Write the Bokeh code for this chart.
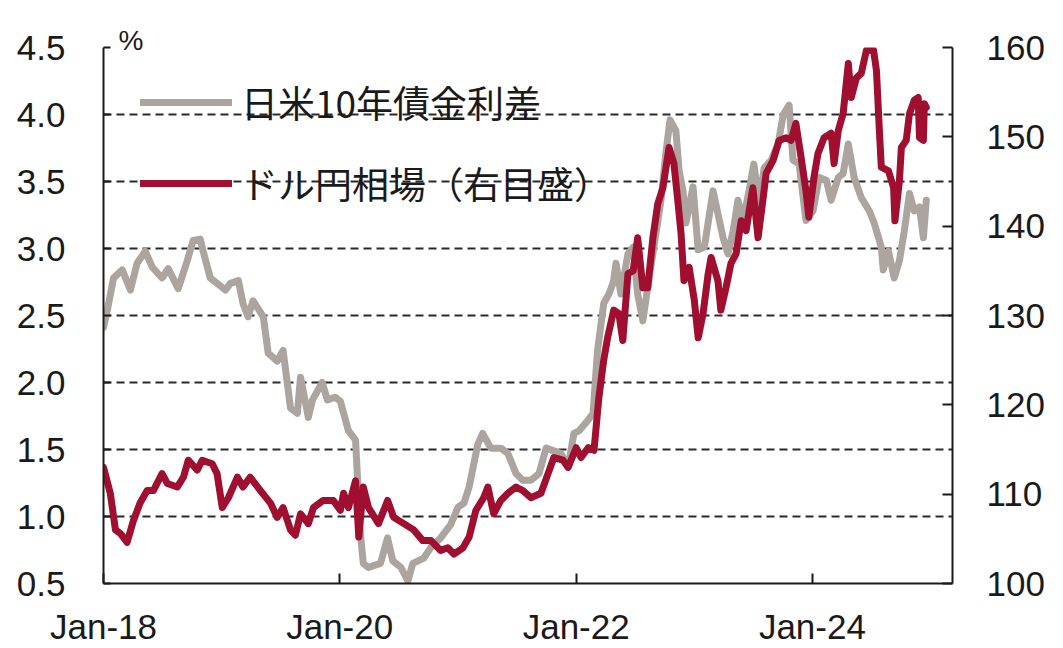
import pandas as pd
from bokeh.plotting import figure
from bokeh.models import (Range1d, LinearAxis, FixedTicker, NumeralTickFormatter,
                          Legend, LegendItem, Title, ColumnDataSource)
from bokeh.core.properties import value
from bokeh.embed import file_html
from bokeh.resources import INLINE

# ---------------- data ----------------
spread_dates = [
    "2018-01-01", "2018-01-13", "2018-02-01", "2018-02-28", "2018-03-25", "2018-04-15", "2018-05-10",
    "2018-06-01", "2018-07-01", "2018-07-20", "2018-08-20", "2018-09-17", "2018-10-05", "2018-10-27",
    "2018-11-05", "2018-11-27", "2018-12-18",
    "2019-01-13", "2019-01-28", "2019-02-22", "2019-03-08", "2019-03-24", "2019-04-08", "2019-05-10",
    "2019-05-25", "2019-06-22", "2019-07-10", "2019-08-02", "2019-08-23", "2019-09-02", "2019-09-26",
    "2019-10-09", "2019-11-08", "2019-11-24", "2019-12-18",
    "2020-01-03", "2020-01-28", "2020-02-19", "2020-03-05", "2020-03-14", "2020-03-30", "2020-05-06",
    "2020-05-28", "2020-06-13", "2020-07-08", "2020-07-30", "2020-08-14", "2020-09-17", "2020-10-09",
    "2020-11-08", "2020-12-09",
    "2021-01-01", "2021-01-19", "2021-02-04", "2021-03-03", "2021-03-18", "2021-04-12", "2021-05-13",
    "2021-06-04", "2021-06-29", "2021-07-20", "2021-08-14", "2021-09-08", "2021-09-30", "2021-10-24",
    "2021-11-15", "2021-12-07", "2021-12-25",
    "2022-01-10", "2022-02-07", "2022-02-22", "2022-03-08", "2022-03-27", "2022-04-12", "2022-04-26",
    "2022-05-04", "2022-05-19", "2022-06-10", "2022-06-26", "2022-07-10", "2022-07-26", "2022-08-10",
    "2022-08-29", "2022-09-20", "2022-10-05", "2022-10-18", "2022-11-05", "2022-11-15", "2022-11-27",
    "2022-12-06", "2022-12-28",
    "2023-01-13", "2023-02-01", "2023-02-28", "2023-03-15", "2023-03-31", "2023-04-15", "2023-05-01",
    "2023-05-16", "2023-06-01", "2023-06-19", "2023-07-04", "2023-07-20", "2023-08-05", "2023-08-27",
    "2023-09-17", "2023-10-03", "2023-10-21", "2023-11-02", "2023-11-21", "2023-12-12",
    "2024-01-03", "2024-01-22", "2024-02-13", "2024-02-28", "2024-03-21", "2024-04-05", "2024-04-21",
    "2024-05-09", "2024-05-31", "2024-06-25", "2024-07-10", "2024-08-01", "2024-08-07", "2024-08-23",
    "2024-09-10", "2024-09-26", "2024-10-11", "2024-10-27", "2024-11-11", "2024-11-27", "2024-12-09",
    "2024-12-18",
]
spread_values = [
    2.41, 2.54, 2.78, 2.84, 2.69, 2.89, 2.98, 2.86, 2.78, 2.85, 2.70, 2.91, 3.06, 3.07, 2.98, 2.78, 2.74,
    2.69, 2.74, 2.76, 2.59, 2.49, 2.61, 2.49, 2.22, 2.16, 2.24, 1.81, 1.77, 2.04, 1.74, 1.87, 2.00, 1.87, 1.89,
    1.86, 1.64, 1.57, 0.87, 0.65, 0.62, 0.65, 0.84, 0.67, 0.62, 0.52, 0.65, 0.69, 0.77, 0.84, 0.94,
    1.07, 1.10, 1.22, 1.54, 1.62, 1.51, 1.51, 1.47, 1.32, 1.27, 1.27, 1.32, 1.51, 1.49, 1.47, 1.37, 1.62,
    1.64, 1.72, 1.77, 2.24, 2.59, 2.66, 2.75, 2.89, 2.66, 2.96, 3.01, 2.66, 2.46, 2.71, 3.01, 3.36, 3.71,
    3.96, 3.88, 3.58, 3.43, 3.19, 3.46,
    2.99, 3.01, 3.43, 3.26, 3.08, 2.96, 3.13, 3.36, 3.21, 3.43, 3.63, 3.34, 3.60, 3.66, 3.78, 4.00, 4.07,
    3.66, 3.63, 3.21,
    3.28, 3.53, 3.51, 3.36, 3.53, 3.56, 3.78, 3.53, 3.38, 3.28, 3.19, 3.01, 2.84, 2.98, 2.78, 2.91, 3.13,
    3.41, 3.28, 3.31, 3.08, 3.36,
]

usdjpy_dates = [
    "2018-01-01", "2018-01-22", "2018-02-07", "2018-02-22", "2018-03-15", "2018-04-03", "2018-04-24",
    "2018-05-16", "2018-06-04", "2018-07-01", "2018-07-17", "2018-08-17", "2018-09-05", "2018-09-20",
    "2018-10-18", "2018-11-02", "2018-12-03", "2018-12-18",
    "2019-01-03", "2019-01-22", "2019-02-19", "2019-03-08", "2019-03-30", "2019-05-01", "2019-06-01",
    "2019-06-22", "2019-07-10", "2019-08-02", "2019-08-17", "2019-09-02", "2019-09-26", "2019-10-12",
    "2019-11-11", "2019-12-12",
    "2020-01-03", "2020-01-13", "2020-01-28", "2020-02-19", "2020-02-29", "2020-03-14", "2020-03-30",
    "2020-04-30", "2020-05-28", "2020-06-16", "2020-07-17", "2020-08-17", "2020-09-14", "2020-10-09",
    "2020-11-08", "2020-11-30", "2020-12-19",
    "2021-01-16", "2021-02-04", "2021-02-25", "2021-03-21", "2021-04-03", "2021-04-21", "2021-05-13",
    "2021-06-04", "2021-06-29", "2021-07-20", "2021-08-14", "2021-09-14", "2021-10-06", "2021-10-24",
    "2021-11-21", "2021-12-07",
    "2022-01-01", "2022-01-16", "2022-02-07", "2022-02-25", "2022-03-12", "2022-03-27", "2022-04-08",
    "2022-04-27", "2022-05-13", "2022-05-25", "2022-06-10", "2022-06-26", "2022-07-10", "2022-07-26",
    "2022-08-10", "2022-08-26", "2022-09-10", "2022-09-26", "2022-10-15", "2022-10-30", "2022-11-12",
    "2022-11-21", "2022-11-30", "2022-12-16",
    "2023-01-01", "2023-01-13", "2023-01-28", "2023-02-13", "2023-02-22", "2023-03-15", "2023-03-24",
    "2023-04-09", "2023-04-24", "2023-05-10", "2023-05-26", "2023-06-10", "2023-07-01", "2023-07-17",
    "2023-08-02", "2023-08-11", "2023-09-02", "2023-09-20", "2023-10-12", "2023-10-27", "2023-11-11",
    "2023-11-27", "2023-12-12", "2023-12-21",
    "2024-01-06", "2024-01-18", "2024-02-06", "2024-02-28", "2024-03-08", "2024-03-21", "2024-04-05",
    "2024-04-21", "2024-04-30", "2024-05-16", "2024-05-31", "2024-06-16", "2024-07-08", "2024-07-17",
    "2024-07-26", "2024-08-01", "2024-08-23", "2024-09-08", "2024-09-12", "2024-09-26", "2024-10-02",
    "2024-10-17", "2024-10-27", "2024-11-11", "2024-11-23", "2024-11-27", "2024-12-09", "2024-12-12",
    "2024-12-18",
]
usdjpy_values = [
    113.0, 110.1, 106.0, 105.6, 104.6, 107.0, 109.0, 110.4, 110.4, 112.3, 111.2, 110.8, 111.9, 113.8,
    112.7, 113.8, 113.4, 112.3,
    108.5, 109.6, 111.9, 110.8, 111.9, 110.4, 109.0, 107.4, 108.5, 106.0, 105.4, 107.8, 106.7, 108.5,
    109.3, 109.3,
    108.2, 110.1, 108.5, 111.5, 105.2, 110.8, 108.5, 106.7, 109.3, 107.4, 106.7, 106.0, 104.8, 104.8,
    103.7, 104.0, 103.3,
    104.0, 105.2, 108.2, 109.6, 110.8, 107.8, 109.3, 110.1, 110.8, 110.4, 109.6, 110.1, 112.3, 114.1,
    113.8, 113.0,
    115.2, 114.1, 115.2, 114.9, 120.8, 125.0, 127.5, 130.6, 130.2, 127.2, 134.7, 135.0, 138.7, 133.1,
    133.1, 138.7, 142.5, 144.3, 148.8, 147.0, 142.5, 139.2, 133.9, 135.4,
    131.7, 127.5, 130.2, 134.7, 136.5, 133.9, 130.6, 133.1, 135.8, 136.9, 140.6, 139.5, 144.3, 138.7,
    143.2, 145.9, 147.4, 149.6, 149.9, 149.6, 151.5, 147.7, 144.0, 141.0,
    145.5, 148.1, 149.9, 150.4, 147.0, 150.7, 152.6, 158.2, 154.4, 156.6, 157.1, 159.7, 159.7, 157.4,
    150.7, 146.6, 146.2, 144.3, 140.6, 145.1, 148.8, 149.6, 152.6, 154.1, 154.4, 149.9, 149.6, 153.7,
    153.3,
]

series_names = ["日米10年債金利差", "ドル円相場（右目盛）"]
series_colors = ["#aca49e", "#a00e30"]
left_ticks = [0.5, 1.0, 1.5, 2.0, 2.5, 3.0, 3.5, 4.0, 4.5]
right_ticks = [100, 110, 120, 130, 140, 150, 160]
x_tick_dates = ["2018-01-01", "2020-01-01", "2022-01-01", "2024-01-01"]
x_tick_labels = ["Jan-18", "Jan-20", "Jan-22", "Jan-24"]
x_start, x_end = "2018-01-01", "2025-03-09"
unit_label = "%"

# ---------------- figure ----------------
FONT = "Liberation Sans"
INK = "#1a1a1a"


def ms(d):
    return pd.Timestamp(d).timestamp() * 1000.0


p = figure(width=1063, height=648, x_axis_type="datetime",
           output_backend="svg", toolbar_location=None,
           x_range=Range1d(ms(x_start), ms(x_end)),
           y_range=Range1d(left_ticks[0], left_ticks[-1]),
           min_border_left=103, min_border_right=111,
           min_border_top=47, min_border_bottom=65)
p.outline_line_color = None
p.background_fill_color = "white"
p.border_fill_color = "white"

p.extra_y_ranges = {"usd": Range1d(right_ticks[0], right_ticks[-1])}

# data lines
src_s = ColumnDataSource(dict(x=pd.to_datetime(spread_dates), y=spread_values))
src_u = ColumnDataSource(dict(x=pd.to_datetime(usdjpy_dates), y=usdjpy_values))
r_gray = p.line("x", "y", source=src_s, line_color=series_colors[0], line_width=7,
                line_join="round", line_cap="round")
r_red = p.line("x", "y", source=src_u, line_color=series_colors[1], line_width=7,
               line_join="round", line_cap="round", y_range_name="usd")

# axes
xax = p.xaxis[0]
xax.ticker = FixedTicker(ticks=[ms(d) for d in x_tick_dates])
xax.major_label_overrides = {ms(d): lab for d, lab in zip(x_tick_dates, x_tick_labels)}
xax.major_label_standoff = 23

yax = p.yaxis[0]
yax.ticker = FixedTicker(ticks=left_ticks)
yax.formatter = NumeralTickFormatter(format="0.0")
yax.major_label_standoff = 38

rax = LinearAxis(y_range_name="usd", ticker=FixedTicker(ticks=right_ticks))
rax.major_label_standoff = 34
p.add_layout(rax, "right")

for ax in (xax, yax, rax):
    ax.axis_line_width = 2
    ax.axis_line_color = INK
    ax.major_tick_line_width = 2
    ax.major_tick_line_color = INK
    ax.major_tick_in = 10
    ax.major_tick_out = 0
    ax.minor_tick_line_color = None
    ax.major_label_text_font = FONT
    ax.major_label_text_font_size = "35px"
    ax.major_label_text_color = INK
yax.major_tick_in = 7

# grid
p.xgrid.visible = False
p.ygrid.ticker = FixedTicker(ticks=left_ticks)
p.ygrid.grid_line_color = "#2a2a2a"
p.ygrid.grid_line_width = 2
p.ygrid.grid_line_dash = "8 5"

# unit label above the left axis
p.add_layout(Title(text=unit_label, align="left", offset=15, standoff=-17,
                   vertical_align="bottom", text_font=FONT, text_font_size="28px",
                   text_font_style="normal", text_color=INK), "above")

# legend
legend = Legend(items=[LegendItem(label=value(series_names[0]), renderers=[r_gray]),
                       LegendItem(label=value(series_names[1]), renderers=[r_red])],
                location=(37, 370), orientation="vertical",
                padding=0, margin=0, spacing=21,
                glyph_width=92, glyph_height=60, label_height=60, label_standoff=9,
                label_text_font="Noto Sans CJK JP", label_text_font_size="37px",
                label_text_color=INK,
                border_line_color=None, background_fill_alpha=0)
p.add_layout(legend)

open("out.html", "w").write(file_html(p, INLINE))
